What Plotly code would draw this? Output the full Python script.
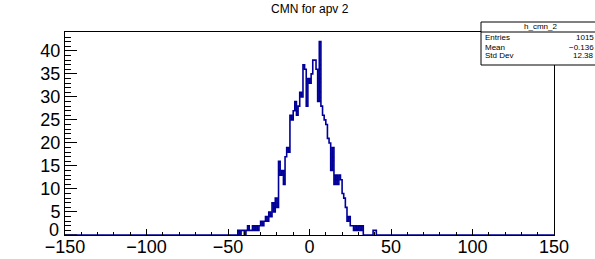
import plotly.graph_objects as go

# ---- data ----
title_text = "CMN for apv 2"
x_min, x_max, n_bins = -150, 150, 300
first_bin = -45  # lower edge of first listed bin
counts = [
    0, 1, 0, 1, 1, 0, 1, 2, 1, 1,      # -45 .. -36
    2, 1, 2, 1, 2, 3, 2, 3, 4, 3,      # -35 .. -26
    5, 4, 7, 5, 8, 6, 16, 13, 14, 11,  # -25 .. -16
    17, 19, 18, 26, 25, 27, 29, 26, 28, 31,  # -15 .. -6
    30, 37, 36, 28, 34, 33, 35, 38, 38, 36,  # -5 .. 4
    29, 42, 28, 26, 25, 24, 21, 20, 14, 19,  # 5 .. 14
    11, 13, 11, 13, 12, 9, 8, 6, 3, 4,       # 15 .. 24
    2, 2, 1, 2, 1, 2, 1, 2, 0, 0,            # 25 .. 34
    0, 0, 0, 0, 1, 1, 0,                     # 35 .. 41
]
y_tick_vals = [5, 10, 15, 20, 25, 30, 35, 40]
stats_name = "h_cmn_2"
stats_labels = ["Entries", "Mean", "Std Dev"]
stats_values = ["1015", "\u22120.136", "12.38"]
y_max = 44.1

# ---- build full histogram ----
full = [0] * n_bins
for i, c in enumerate(counts):
    full[first_bin - x_min + i] = c
edges = [x_min + i for i in range(n_bins + 1)]
ys = full + [full[-1]]

fig = go.Figure()
fig.add_trace(go.Scatter(
    x=edges, y=ys, mode="lines", line=dict(color="#000099", width=1.6, shape="hv"),
    hoverinfo="skip", showlegend=False, cliponaxis=True,
))

font_family = "Liberation Sans, Arial, Helvetica, sans-serif"
fig.update_layout(
    width=595, height=259, autosize=False,
    margin=dict(l=65, r=41, t=32, b=24, pad=0),
    paper_bgcolor="white", plot_bgcolor="white",
    font=dict(family=font_family, color="black"),
    xaxis=dict(
        range=[x_min, x_max], showgrid=False, zeroline=False,
        showline=True, linecolor="black", linewidth=1, mirror=True,
        ticks="inside", ticklen=6, tickwidth=1, tickcolor="black",
        dtick=50, tick0=0, tickfont=dict(size=18), automargin=False,
        ticklabelstandoff=-5,
        minor=dict(dtick=10, ticks="inside", ticklen=3, tickcolor="black", showgrid=False),
    ),
    yaxis=dict(
        range=[0, y_max], showgrid=False, zeroline=False,
        showline=True, linecolor="black", linewidth=1, mirror=True,
        ticks="inside", ticklen=12, tickwidth=1, tickcolor="black",
        tickmode="array", tickvals=y_tick_vals,
        tickfont=dict(size=18), automargin=False,
        minor=dict(dtick=1, tick0=0, ticks="inside", ticklen=6, tickcolor="black", showgrid=False),
    ),
)

def px_x(p):
    return (p - 65) / 489

def px_y(p):
    return (235 - p) / 203

# major tick at 0 and the ROOT-style raised "0" label
fig.add_shape(type="line", xref="paper", yref="y", x0=0, x1=12 / 489, y0=0, y1=0,
              line=dict(color="black", width=1))
fig.add_annotation(text="0", xref="paper", yref="paper",
                   x=px_x(61), y=px_y(230), xanchor="right", yanchor="middle",
                   showarrow=False, font=dict(size=18, family=font_family))

# title
fig.add_annotation(text=title_text, xref="paper", yref="paper",
                   x=0.5, y=px_y(9), xanchor="center", yanchor="middle",
                   showarrow=False, font=dict(size=12, family=font_family))

# stats box
fig.add_shape(type="rect", xref="paper", yref="paper",
              x0=px_x(481), x1=px_x(602), y0=px_y(65), y1=px_y(22),
              line=dict(color="black", width=1), fillcolor="white", layer="above")
fig.add_shape(type="line", xref="paper", yref="paper",
              x0=px_x(481), x1=px_x(602), y0=px_y(32), y1=px_y(32),
              line=dict(color="black", width=1), layer="above")
fig.add_annotation(text=stats_name, xref="paper", yref="paper",
                   x=px_x(540), y=px_y(27), xanchor="center", yanchor="middle",
                   showarrow=False, font=dict(size=8, family=font_family))
row_y = [38, 47, 56]
for lab, val, yy in zip(stats_labels, stats_values, row_y):
    fig.add_annotation(text=lab, xref="paper", yref="paper",
                       x=px_x(483), y=px_y(yy), xanchor="left", yanchor="middle",
                       showarrow=False, font=dict(size=8, family=font_family))
    fig.add_annotation(text=val, xref="paper", yref="paper",
                       x=px_x(596), y=px_y(yy), xanchor="right", yanchor="middle",
                       showarrow=False, font=dict(size=8, family=font_family))

fig.write_html("out.html",
               config={"displayModeBar": False},
               post_script="document.body.style.margin='0';document.body.style.overflow='hidden';")
